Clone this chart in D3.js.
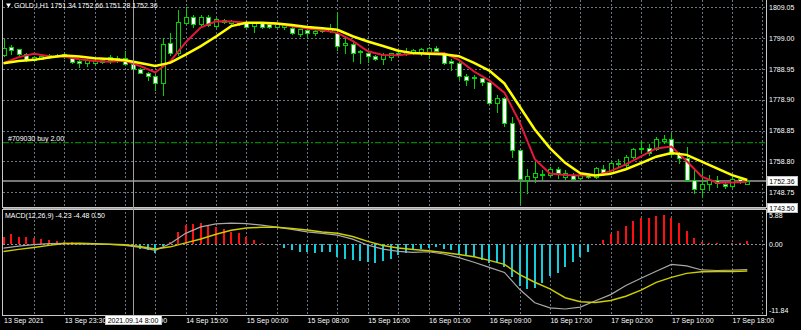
<!DOCTYPE html>
<html>
<head>
<meta charset="utf-8">
<script src="https://cdn.jsdelivr.net/npm/d3@7"></script>
<style>
    body { margin: 0; background: #000; }
    svg text { font-family: "Liberation Sans", Arial, sans-serif; font-size: 7px; fill: #fff; }
</style>
</head>
<body>
<svg id="chart" width="801" height="330"></svg>
<script>
// GOLD.I H1 - candles (bar 0 .. 98)
var opens = [1793.5,1796.2,1795.3,1793.7,1791.9,1792.3,1792.7,1793.5,1792.8,1792.4,
    1791.5,1790.9,1791.0,1791.9,1791.9,1792.6,1792.4,1790.5,1788.9,1787.7,
    1786.6,1784.3,1797.3,1794.0,1804.0,1805.8,1803.5,1805.9,1803.0,1804.3,
    1803.9,1804.4,1804.4,1802.9,1803.8,1803.6,1802.7,1802.7,1802.2,1800.2,
    1801.6,1800.6,1801.2,1801.3,1800.6,1796.7,1797.1,1794.4,1794.0,1793.3,
    1792.1,1792.9,1794.2,1793.7,1794.0,1794.6,1794.4,1795.9,1794.0,1791.5,
    1791.0,1786.6,1786.0,1785.9,1784.6,1777.9,1779.4,1771.2,1762.5,1752.7,
    1753.6,1754.3,1754.3,1756.2,1753.8,1754.3,1753.2,1754.3,1753.8,1756.2,
    1755.4,1758.1,1757.6,1760.1,1762.7,1763.2,1762.7,1765.5,1766.0,1761.4,
    1759.8,1752.7,1749.7,1751.4,1752.7,1751.4,1750.7,1752.9,1751.34];
var highs = [1798.7,1796.7,1795.6,1794.0,1793.2,1793.5,1793.8,1793.8,1794.1,1792.8,
    1791.9,1792.2,1792.1,1792.2,1793.5,1793.2,1794.9,1790.7,1789.2,1787.9,
    1787.3,1798.9,1800.7,1808.2,1809.2,1806.5,1806.5,1806.5,1805.6,1805.2,
    1804.9,1804.6,1804.6,1804.3,1804.1,1803.9,1803.8,1803.6,1802.6,1802.1,
    1801.8,1801.9,1802.6,1803.6,1807.1,1799.3,1797.6,1795.1,1794.6,1793.5,
    1794.0,1794.3,1795.1,1795.9,1795.4,1795.9,1796.2,1796.4,1794.5,1792.2,
    1791.9,1787.3,1787.0,1786.1,1785.3,1780.4,1779.9,1773.4,1762.8,1756.2,
    1758.7,1756.0,1756.9,1756.8,1756.0,1754.9,1754.6,1754.6,1756.9,1757.6,
    1758.7,1759.4,1760.8,1763.0,1765.5,1764.4,1766.6,1767.4,1767.7,1761.8,
    1763.6,1756.0,1756.0,1754.3,1754.0,1752.1,1753.8,1753.2,1752.66];
var lows = [1793.2,1793.8,1793.3,1791.5,1791.5,1792.2,1792.5,1792.7,1792.5,1790.9,
    1789.7,1789.9,1790.2,1790.9,1790.9,1791.2,1790.2,1788.3,1787.5,1785.3,
    1782.1,1780.4,1793.5,1793.6,1803.6,1802.7,1802.7,1802.9,1802.7,1803.9,
    1803.6,1803.3,1802.6,1801.1,1802.2,1802.3,1802.5,1801.9,1800.3,1799.7,
    1799.0,1800.0,1801.0,1801.0,1795.1,1794.0,1791.5,1791.0,1791.3,1792.0,
    1790.5,1791.9,1793.3,1793.5,1793.8,1793.5,1792.4,1794.5,1790.5,1788.6,
    1785.8,1783.7,1782.6,1783.7,1777.5,1775.0,1770.3,1760.3,1745.1,1748.4,
    1752.1,1752.7,1753.8,1753.2,1752.9,1752.7,1753.0,1753.4,1753.5,1754.3,
    1754.9,1757.0,1757.0,1759.9,1761.4,1760.8,1762.5,1764.7,1760.5,1758.1,
    1752.4,1748.4,1747.2,1749.4,1750.5,1750.0,1750.4,1751.7,1751.28];
var closes = [1795.8,1795.1,1793.7,1791.9,1792.7,1793.0,1793.5,1793.0,1793.8,1791.1,
    1790.8,1791.9,1791.6,1791.2,1792.9,1791.5,1790.5,1788.8,1787.7,1786.6,
    1784.3,1797.0,1794.0,1804.4,1806.0,1803.5,1805.8,1803.2,1805.2,1805.0,
    1804.6,1803.8,1802.7,1803.9,1802.7,1802.6,1803.6,1803.4,1800.6,1801.9,
    1800.6,1801.4,1801.8,1802.1,1796.5,1797.3,1794.0,1794.7,1793.2,1792.2,
    1793.5,1794.0,1793.5,1794.8,1795.1,1795.3,1795.7,1794.8,1791.0,1790.8,
    1786.6,1785.3,1786.3,1784.6,1777.7,1779.5,1771.2,1762.5,1752.9,1754.0,
    1754.9,1754.8,1756.2,1754.9,1754.9,1753.0,1754.3,1753.7,1756.5,1754.6,
    1758.1,1758.3,1760.3,1762.7,1763.2,1761.4,1766.0,1766.0,1761.2,1759.8,
    1752.7,1749.7,1751.4,1752.7,1751.6,1750.7,1752.9,1752.0,1752.36];

// Moving averages, read every second bar
var maBars = d3.range(0, 99, 2);
var redMA = [1790.8,1792.8,1793.9,1793.1,1792.9,1792.1,1791.5,1791.3,1791.6,1789.9,
    1787.8,1791.5,1797.6,1802.5,1804.5,1804.4,1804.0,1803.9,1803.7,1802.9,
    1802.1,1801.6,1800.7,1798.1,1794.7,1793.5,1793.4,1794.0,1794.2,1794.1,
    1791.9,1788.1,1785.2,1781.2,1771.6,1759.5,1754.8,1754.3,1754.2,1754.2,
    1755.6,1757.8,1760.4,1763.0,1763.6,1758.9,1753.8,1751.8,1751.9,1752.1];
var yellowMA = [1790.8,1791.5,1791.9,1792.7,1793.3,1793.0,1792.4,1792.2,1791.8,1790.9,
    1789.9,1791.0,1793.6,1796.4,1799.5,1802.9,1804.0,1804.0,1803.8,1803.3,
    1802.6,1802.2,1801.7,1799.6,1797.9,1796.4,1794.9,1794.1,1793.9,1793.7,
    1793.1,1790.9,1788.4,1784.2,1776.7,1769.2,1763.1,1758.3,1754.9,1754.2,
    1754.7,1756.2,1758.2,1760.3,1761.5,1760.9,1758.7,1756.5,1754.3,1752.7];

// MACD(12,26,9)
var macdHist = [1.27,1.67,1.27,1.17,1.10,0.89,0.72,0.60,0.43,0.33,
    0.20,0.13,0.10,-0.08,0.05,-0.05,-0.15,-0.50,-0.84,-0.95,
    -1.50,-0.30,0.43,2.00,3.23,3.39,3.61,3.06,2.94,2.56,
    2.11,1.84,1.17,0.72,0.27,0.05,0.03,-0.57,-0.95,-1.24,
    -1.30,-1.40,-1.24,-1.24,-2.07,-2.51,-2.62,-2.74,-2.91,-3.08,
    -2.74,-2.51,-1.79,-1.51,-0.95,-0.84,-0.57,-0.40,-0.84,-0.95,
    -1.62,-1.79,-2.17,-2.63,-3.18,-3.08,-3.75,-5.52,-6.97,-7.53,
    -7.36,-6.52,-5.30,-4.75,-3.75,-2.91,-2.07,-1.24,-0.05,0.72,
    1.67,2.27,3.06,3.90,4.35,4.35,4.73,4.90,4.35,3.61,
    2.27,1.00,0.43,0.27,0.17,0.05,0.27,0.27,0.50];
var macdMain = [-0.67,-0.32,-0.08,0.08,0.13,0.05,0.02,-0.03,-0.20,-0.54,
    -1.02,0.10,1.81,2.88,3.39,3.51,3.44,3.18,2.84,2.46,
    2.07,1.79,1.51,0.84,-0.17,-0.84,-1.20,-1.37,-1.27,-1.64,
    -2.24,-3.03,-3.88,-4.73,-7.54,-9.80,-10.65,-10.84,-10.52,-9.45,
    -8.43,-6.92,-5.70,-4.52,-3.38,-3.63,-4.31,-4.40,-4.35,-4.23];
var macdSignal = [-1.24,-0.87,-0.54,-0.20,0.13,0.17,0.08,0.00,-0.08,-0.38,
    -0.79,-0.45,0.22,0.87,1.67,2.31,2.69,2.84,2.84,2.64,
    2.37,2.04,1.81,1.29,0.47,-0.22,-0.65,-0.87,-1.10,-1.39,
    -1.71,-2.11,-2.71,-3.38,-5.10,-6.37,-7.46,-8.95,-9.63,-9.73,
    -9.43,-8.70,-7.69,-6.39,-5.55,-4.88,-4.62,-4.58,-4.58,-4.48];

// Axes
var priceTicks = [1809.05, 1799.00, 1788.95, 1778.90, 1768.85, 1758.80, 1748.75];
var macdTicks = [5.88, 0.00, -11.84];
var timeBars = [0, 8, 16, 24, 32, 40, 48, 56, 64, 72, 80, 88, 96];
var timeLabels = ['13 Sep 2021', '13 Sep 23:30', '14 Sep 07:00', '14 Sep 15:00', '15 Sep 00:00',
    '15 Sep 08:00', '15 Sep 16:00', '16 Sep 01:00', '16 Sep 09:00', '16 Sep 17:00',
    '17 Sep 02:00', '17 Sep 10:00', '17 Sep 18:00'];

var orderPrice = 1764.87;
var orderLabel = '#709030 buy 2.00';
var crossBar = 17, crossPrice = 1743.50, crossTime = '2021.09.14 8:00';
var title = 'GOLD.I,H1  1751.34 1752.66 1751.28 1752.36';
var macdTitle = 'MACD(12,26,9) -4.23 -4.48 0.50';

var svg = d3.select('#chart');
var left = 3, right = 766, mainBottom = 207, macdTop = 209, macdBottom = 315;

var x = d3.scaleLinear().domain([0, 98]).range([3.5, 747.3]);
var y = d3.scaleLinear().domain([1743.5, 1809.05]).range([208.2, 7.3]);
var ym = d3.scaleLinear().domain([-11.84, 5.88]).range([315, 209]);

var green = '#00d400', gridColor = '#6a7684';

svg.append('rect').attr('width', 801).attr('height', 330).attr('fill', '#000');

var defs = svg.append('defs');
defs.append('clipPath').attr('id', 'clipMain').append('rect')
    .attr('x', left).attr('y', 0).attr('width', right - left).attr('height', mainBottom);
defs.append('clipPath').attr('id', 'clipMacd').append('rect')
    .attr('x', left).attr('y', macdTop).attr('width', right - left).attr('height', macdBottom - macdTop);

/********** Grid ************/
var grid = svg.append('g').attr('stroke', gridColor).attr('stroke-dasharray', '2,2')
    .attr('shape-rendering', 'crispEdges');
var gridBars = d3.range(4, 101, 4);
grid.selectAll('.vg').data(gridBars).enter().append('line')
    .attr('x1', function(d) { return Math.round(x(d)) + 0.5; })
    .attr('x2', function(d) { return Math.round(x(d)) + 0.5; })
    .attr('y1', 0).attr('y2', macdBottom);
grid.selectAll('.hg').data(priceTicks).enter().append('line')
    .attr('x1', left).attr('x2', right)
    .attr('y1', function(d) { return Math.round(y(d)) + 0.5; })
    .attr('y2', function(d) { return Math.round(y(d)) + 0.5; });
grid.append('line').attr('x1', left).attr('x2', right)
    .attr('y1', Math.round(ym(0)) + 0.5).attr('y2', Math.round(ym(0)) + 0.5)
    .attr('stroke', '#8a8f96');

/********** Main panel ************/
var main = svg.append('g').attr('clip-path', 'url(#clipMain)');

// order line
main.append('line').attr('x1', left).attr('x2', right)
    .attr('y1', y(orderPrice)).attr('y2', y(orderPrice))
    .attr('stroke', '#00a800').attr('stroke-dasharray', '6,2,2,2');

// bid line
main.append('line').attr('x1', left).attr('x2', right)
    .attr('y1', Math.round(y(closes[98]))).attr('y2', Math.round(y(closes[98])))
    .attr('stroke', '#767676').attr('stroke-width', 2)
    .attr('shape-rendering', 'crispEdges');

var candles = d3.range(opens.length).map(function(i) {
    return { i: i, o: opens[i], h: highs[i], l: lows[i], c: closes[i] };
});

var cg = main.append('g').attr('shape-rendering', 'crispEdges');
cg.selectAll('.wick').data(candles).enter().append('line')
    .attr('x1', function(d) { return Math.round(x(d.i)) + 0.5; })
    .attr('x2', function(d) { return Math.round(x(d.i)) + 0.5; })
    .attr('y1', function(d) { return Math.round(y(d.h)); })
    .attr('y2', function(d) { return Math.round(y(d.l)) + 1; })
    .attr('stroke', green);
cg.selectAll('.body').data(candles).enter().append('rect')
    .attr('x', function(d) { return Math.round(x(d.i)) - 1.5; })
    .attr('width', 4)
    .attr('y', function(d) { return Math.round(y(Math.max(d.o, d.c))) + 0.5; })
    .attr('height', function(d) {
        return Math.max(1, Math.round(y(Math.min(d.o, d.c))) - Math.round(y(Math.max(d.o, d.c))));
    })
    .attr('fill', function(d) { return d.c >= d.o ? '#000' : '#fff'; })
    .attr('stroke', green);

// moving averages
var maLine = d3.line()
    .x(function(d) { return x(d.i); })
    .y(function(d) { return y(d.v); });
main.append('path')
    .datum(maBars.map(function(b, k) { return { i: b, v: redMA[k] }; }))
    .attr('d', maLine).attr('fill', 'none').attr('stroke', '#e8163c').attr('stroke-width', 2);
main.append('path')
    .datum(maBars.map(function(b, k) { return { i: b, v: yellowMA[k] }; }))
    .attr('d', maLine).attr('fill', 'none').attr('stroke', '#ffff00').attr('stroke-width', 2.5);

/********** MACD panel ************/
var macd = svg.append('g').attr('clip-path', 'url(#clipMacd)');
macd.append('g').attr('shape-rendering', 'crispEdges')
    .selectAll('rect').data(macdHist).enter().append('rect')
    .attr('x', function(d, i) { return Math.round(x(i)) - 1; })
    .attr('width', 2)
    .attr('y', function(d) { return Math.min(ym(0), ym(d)); })
    .attr('height', function(d) { return Math.abs(ym(d) - ym(0)); })
    .attr('fill', function(d) { return d >= 0 ? '#ff1010' : '#14ccdc'; });

var macdLine = d3.line()
    .x(function(d) { return x(d.i); })
    .y(function(d) { return ym(d.v); });
macd.append('path')
    .datum(maBars.map(function(b, k) { return { i: b, v: macdMain[k] }; }))
    .attr('d', macdLine).attr('fill', 'none').attr('stroke', '#a8a8a8').attr('stroke-width', 1.2);
macd.append('path')
    .datum(maBars.map(function(b, k) { return { i: b, v: macdSignal[k] }; }))
    .attr('d', macdLine).attr('fill', 'none').attr('stroke', '#cccc00').attr('stroke-width', 1.5);

/********** Frames & crosshair ************/
var frame = svg.append('g').attr('fill', 'none').attr('stroke', '#c8c8c8').attr('shape-rendering', 'crispEdges');
frame.append('rect').attr('x', left - 0.5).attr('y', -0.5).attr('width', right - left + 1).attr('height', mainBottom + 1);
frame.append('rect').attr('x', left - 0.5).attr('y', macdTop + 0.5).attr('width', right - left + 1).attr('height', macdBottom - macdTop);

var cross = svg.append('g').attr('stroke', '#a0a0a0').attr('shape-rendering', 'crispEdges');
cross.append('line')
    .attr('x1', Math.round(x(crossBar)) + 0.5).attr('x2', Math.round(x(crossBar)) + 0.5)
    .attr('y1', 0).attr('y2', macdBottom);
cross.append('line').attr('x1', left).attr('x2', right)
    .attr('y1', Math.round(y(crossPrice)) + 0.5).attr('y2', Math.round(y(crossPrice)) + 0.5);

/********** Texts ************/
svg.append('path').attr('d', 'M6,3.5 L11,3.5 L8.5,7.5 Z').attr('fill', '#fff');
svg.append('text').attr('x', 14).attr('y', 8).text(title);
svg.append('text').attr('x', 8).attr('y', y(orderPrice) - 2).text(orderLabel);
svg.append('text').attr('x', 5).attr('y', 218).text(macdTitle);

// price axis
svg.selectAll('.pl').data(priceTicks).enter().append('text')
    .attr('x', 769).attr('y', function(d) { return y(d) + 2.6; })
    .text(function(d) { return d.toFixed(2); });

// macd axis
svg.selectAll('.ml').data(macdTicks).enter().append('text')
    .attr('x', 769)
    .attr('y', function(d, i) { return ym(d) + (i === 0 ? 8.5 : (i === 2 ? -2.5 : 3)); })
    .text(function(d) { return d.toFixed(2); });

// time axis
svg.selectAll('.tl').data(timeBars).enter().append('text')
    .attr('x', function(d) { return x(d) + 0.5; })
    .attr('y', 322.5)
    .text(function(d, i) { return timeLabels[i]; });

// white value boxes
function valueBox(cx, cy, w, label) {
    var g = svg.append('g');
    g.append('rect').attr('x', cx).attr('y', cy - 4.5).attr('width', w).attr('height', 9)
        .attr('fill', '#fff').attr('stroke', '#c0c0c0').attr('shape-rendering', 'crispEdges');
    g.append('text').attr('x', cx + w / 2).attr('y', cy + 2.6).attr('text-anchor', 'middle')
        .style('fill', '#000').text(label);
}
valueBox(767, y(closes[98]), 30, closes[98].toFixed(2));
valueBox(767, y(crossPrice), 30, crossPrice.toFixed(2));
valueBox(Math.round(x(crossBar)) - 28, 320, 56, crossTime);
</script>
</body>
</html>
